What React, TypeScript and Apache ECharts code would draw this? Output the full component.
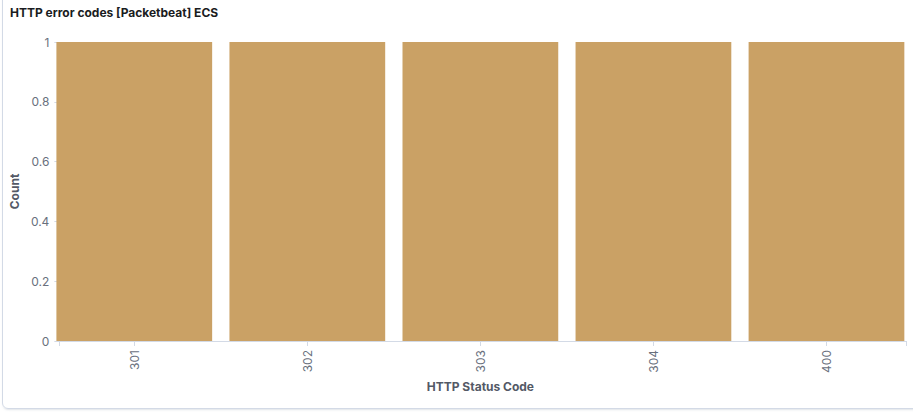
import React, { useEffect, useRef } from "react";
import * as echarts from "echarts";

const title = "HTTP error codes [Packetbeat] ECS";
const categories = ["301", "302", "303", "304", "400"];
const counts = [1, 1, 1, 1, 1];
const yTicks = [0, 0.2, 0.4, 0.6, 0.8, 1];

export default function App() {
  const ref = useRef<HTMLDivElement>(null);
  useEffect(() => {
    if (!ref.current) return;
    const chart = echarts.init(ref.current, undefined, { renderer: "svg" });
    const labelColor = "#69707d";
    const axisColor = "#d3dae6";
    const nameStyle = { fontFamily: "Inter", fontSize: 12, fontWeight: 700, color: "#535966" };
    const yMin = yTicks[0];
    const yMax = yTicks[yTicks.length - 1];
    chart.setOption({
      animation: false,
      textStyle: { fontFamily: "Inter" },
      title: {
        text: title,
        left: 10,
        top: 6,
        padding: 0,
        textStyle: { fontFamily: "Inter", fontSize: 12, fontWeight: 700, color: "#1a1c21" },
      },
      grid: [
        { left: 47.75, right: -2.25, top: 42, bottom: 73 },
        { left: 57, right: 7, top: 42, bottom: 73 },
      ],
      xAxis: [
        {
          type: "category",
          gridIndex: 0,
          data: categories,
          name: "HTTP Status Code",
          nameLocation: "middle",
          nameGap: 36,
          nameTextStyle: nameStyle,
          axisLine: { show: true, lineStyle: { color: "rgba(0,0,0,0)" } },
          axisTick: { show: true, alignWithLabel: true, length: 5, lineStyle: { color: axisColor } },
          axisLabel: {
            rotate: 90,
            margin: 9,
            fontFamily: "Inter",
            fontSize: 12,
            color: labelColor,
          },
        },
        {
          type: "value",
          gridIndex: 1,
          min: 0,
          max: 1,
          interval: 1,
          splitLine: { show: false },
          axisLine: { show: true, lineStyle: { color: axisColor } },
          axisTick: { show: true, length: 5, lineStyle: { color: axisColor } },
          axisLabel: { show: false },
        },
      ],
      yAxis: [
        {
          type: "value",
          gridIndex: 0,
          min: yMin,
          max: yMax,
          show: false,
        },
        {
          type: "value",
          gridIndex: 1,
          min: yMin,
          max: yMax,
          interval: 0.2,
          offset: 2,
          name: "Count",
          nameLocation: "middle",
          nameGap: 33,
          nameTextStyle: nameStyle,
          splitLine: { show: false },
          axisLine: { show: true, lineStyle: { color: "rgba(0,0,0,0)" } },
          axisTick: { show: true, length: 5, lineStyle: { color: axisColor } },
          axisLabel: {
            margin: 8,
            fontFamily: "Inter",
            fontSize: 12,
            color: labelColor,
            formatter: (v: number) => String(Math.round(v * 10) / 10),
          },
        },
      ],
      series: [
        {
          type: "bar",
          xAxisIndex: 0,
          yAxisIndex: 0,
          data: counts,
          barWidth: "90%",
          itemStyle: { color: "#caa165" },
        },
      ],
    });
    return () => chart.dispose();
  }, []);
  return (
    <div style={{ position: "fixed", left: 0, top: 0, width: 913, height: 414, background: "#fff" }}>
      <div
        style={{
          position: "absolute",
          left: 2,
          top: -10,
          width: 930,
          height: 419,
          border: "1px solid #d3dae6",
          borderRadius: 6,
          boxShadow: "0 2px 2px -1px rgba(152,162,179,0.3)",
          boxSizing: "border-box",
        }}
      />
      <div ref={ref} style={{ position: "absolute", left: 0, top: 0, width: 913, height: 414 }} />
    </div>
  );
}
